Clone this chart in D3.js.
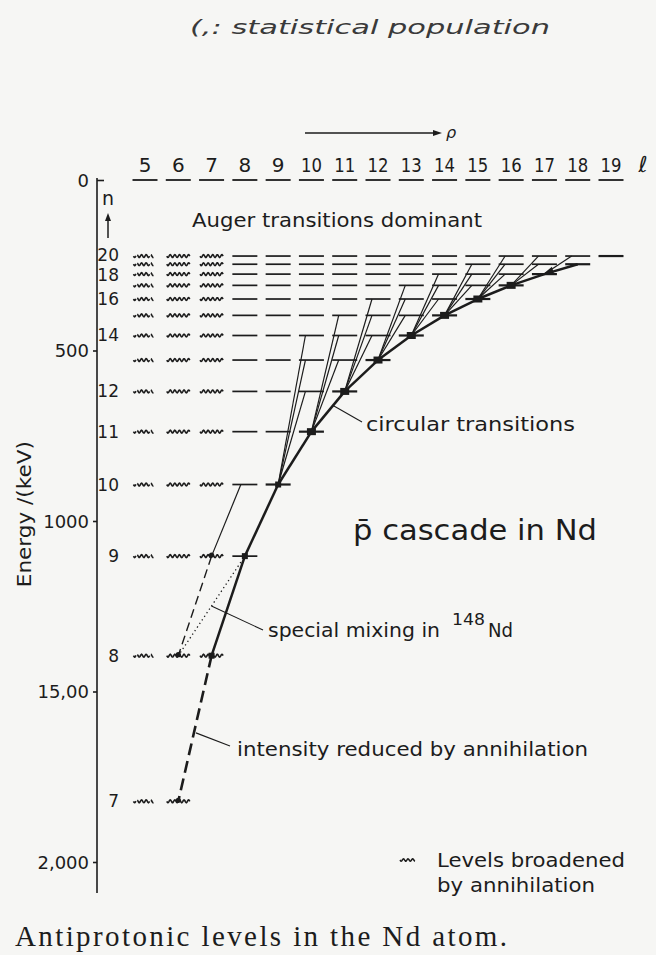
<!DOCTYPE html>
<html>
<head>
<meta charset="utf-8">
<script src="https://cdn.jsdelivr.net/npm/d3@7"></script>
<style>
  html, body { margin: 0; padding: 0; background: #f6f6f4; }
  svg { display: block; }
</style>
</head>
<body>
<svg id="fig" width="656" height="955"></svg>
<script>
// ---- data -------------------------------------------------------------
// principal quantum numbers and their binding energies (keV)
const principalN      = [7, 8, 9, 10, 11, 12, 13, 14, 15, 16, 17, 18, 19, 20];
const levelEnergyKeV  = [1822, 1395, 1103, 893, 738, 620, 528, 456, 397, 349, 309, 276, 247, 223];
const labelledN       = [20, 18, 16, 14, 12, 11, 10, 9, 8, 7];
// orbital angular momentum columns
const lValues         = [5, 6, 7, 8, 9, 10, 11, 12, 13, 14, 15, 16, 17, 18, 19];
const broadenedL      = [5, 6, 7];
// energy axis
const energyTicks      = [0, 500, 1000, 1500, 2000];
const energyTickLabels = ["0", "500", "1000", "15,00", "2,000"];
// circular cascade: upper n of each step (n, n-1) -> (n-1, n-2)
const circularChainN  = [19, 18, 17, 16, 15, 14, 13, 12, 11, 10, 9];
// circular levels carrying a population dot
const circularDotN    = [8, 9, 10, 11, 12, 13, 14, 15, 16, 17];
// side feeding into circular levels: [n_from, l_from, n_to, l_to]
const sideFeeds = [
  [12, 10, 10, 9], [13, 10, 10, 9], [14, 10, 10, 9],
  [13, 11, 11, 10], [14, 11, 11, 10], [15, 11, 11, 10],
  [14, 12, 12, 11], [15, 12, 12, 11], [16, 12, 12, 11],
  [15, 13, 13, 12], [16, 13, 13, 12], [17, 13, 13, 12],
  [16, 14, 14, 13], [17, 14, 14, 13], [18, 14, 14, 13],
  [17, 15, 15, 14], [18, 15, 15, 14], [19, 15, 15, 14],
  [18, 16, 16, 15], [19, 16, 16, 15], [20, 16, 16, 15],
  [19, 17, 17, 16], [20, 17, 17, 16],
  [20, 18, 18, 17]
];
const parallelFeeds    = [[10, 8, 9, 7]];
const annihilatedThin  = [[9, 7, 8, 6]];     // dashed thin
const annihilatedThick = [[8, 7, 7, 6]];     // dashed thick
const mixingSteps      = [[9, 8, 8, 6]];     // dotted
const smallDots        = [[9, 7], [8, 6], [7, 6]];

// ---- setup ------------------------------------------------------------
const W = 656, H = 955;
const ink = "#1c1c1c";
const font = "'DejaVu Sans', sans-serif";
const svg = d3.select("#fig");
svg.append("rect").attr("width", W).attr("height", H).attr("fill", "#f6f6f4");

const energyOf = new Map(principalN.map((n, i) => [n, levelEnergyKeV[i]]));
const xL = d3.scaleLinear().domain([5, 19]).range([145, 611]);
const yE = d3.scaleLinear().domain([0, 2000]).range([180, 862]);
const P = (n, l) => [xL(l), yE(energyOf.get(n))];
const halfW = 12.5;

function label(g, txt, x, y, size, len, opts = {}) {
  const t = g.append("text").attr("x", x).attr("y", y)
    .attr("font-family", opts.family || font)
    .attr("font-size", size).attr("fill", opts.fill || ink)
    .attr("text-anchor", opts.anchor || "start")
    .text(txt);
  if (opts.style) t.attr("font-style", opts.style);
  if (opts.weight) t.attr("font-weight", opts.weight);
  if (len) t.attr("textLength", len).attr("lengthAdjust", opts.adjust || "spacingAndGlyphs");
  return t;
}

function wavyPath(x0, x1, y, amp, wl) {
  const pts = d3.range(x0, x1 + 0.01, 0.5)
    .map(x => [x, y + amp * Math.sin((x - x0) / wl * 2 * Math.PI)]);
  return d3.line()(pts);
}

// ---- title & momentum arrow ------------------------------------------
label(svg, "(,: statistical population", 190, 34, 20, 360,
      { family: "'DejaVu Sans', sans-serif", style: "italic", weight: 300, fill: "#3a3a3a" });

const arrowY = 133;
svg.append("line").attr("x1", 305).attr("x2", 433).attr("y1", arrowY).attr("y2", arrowY)
  .attr("stroke", ink).attr("stroke-width", 1.3);
svg.append("path").attr("d", `M433,${arrowY - 3}L442,${arrowY}L433,${arrowY + 3}Z`).attr("fill", ink);
label(svg, "ρ", 446, arrowY + 5, 16, null, { style: "italic" });

// ---- energy axis -------------------------------------------------------
const axisG = svg.append("g").attr("transform", "translate(97,0)");
axisG.call(d3.axisLeft(yE).tickValues(energyTicks)
  .tickFormat((d, i) => energyTickLabels[i]).tickSize(4).tickPadding(4));
axisG.select(".domain").remove();
axisG.selectAll(".tick line").attr("stroke", ink).attr("stroke-width", 1.6);
axisG.selectAll(".tick").filter(d => d === 0).select("line").attr("x2", 7);
axisG.selectAll(".tick text").attr("font-family", font).attr("font-size", 18)
  .attr("fill", ink).attr("dy", "0.36em");
svg.append("line").attr("x1", 97).attr("x2", 97)
  .attr("y1", yE(0) - 2).attr("y2", yE(2000) + 31)
  .attr("stroke", ink).attr("stroke-width", 1.6);

svg.append("text").attr("transform", `translate(31,${yE(980)}) rotate(-90)`)
  .attr("text-anchor", "middle").attr("font-family", font).attr("font-size", 19)
  .attr("fill", ink).attr("textLength", 146).attr("lengthAdjust", "spacingAndGlyphs")
  .text("Energy /(keV)");

// n with upward arrow
label(svg, "n", 108, 205, 19, null, { anchor: "middle" });
svg.append("line").attr("x1", 108).attr("x2", 108).attr("y1", 238).attr("y2", 219)
  .attr("stroke", ink).attr("stroke-width", 1.5);
svg.append("path").attr("d", "M105,221L108,213L111,221Z").attr("fill", ink);

// ---- l labels and ionisation limit -----------------------------------
const topG = svg.append("g");
lValues.forEach(l => {
  label(topG, String(l), xL(l), 172, 20, l >= 10 ? 21 : null, { anchor: "middle" });
  topG.append("line").attr("x1", xL(l) - halfW).attr("x2", xL(l) + halfW)
    .attr("y1", yE(0)).attr("y2", yE(0)).attr("stroke", ink).attr("stroke-width", 1.8);
});
label(topG, "ℓ", 643, 172, 22, null, { anchor: "middle", style: "italic" });

// ---- energy levels ------------------------------------------------------
const levG = svg.append("g");
principalN.forEach(n => {
  const y = yE(energyOf.get(n));
  lValues.filter(l => l <= n - 1).forEach(l => {
    const x = xL(l);
    if (broadenedL.includes(l)) {
      const p = levG.append("path")
        .attr("d", wavyPath(x - halfW + 1, x + halfW - 1, y, 1.4, 4.6))
        .attr("fill", "none").attr("stroke", ink).attr("stroke-width", 1.6);
      if (l === 5) p.attr("stroke-dasharray", "4 2 20 2 4 100");
    } else {
      levG.append("line").attr("x1", x - halfW).attr("x2", x + halfW)
        .attr("y1", y).attr("y2", y).attr("stroke", ink)
        .attr("stroke-width", l === n - 1 && n >= 10 ? 2.2 : 1.7);
    }
  });
});

// level numbers (20 nudged up, 18 down, since n=19 sits between them)
const labelNudge = new Map([[20, -1.5], [18, 1]]);
labelledN.forEach(n => {
  label(levG, String(n), 119, yE(energyOf.get(n)) + 6 + (labelNudge.get(n) || 0), 17,
        null, { anchor: "end" });
});

// ---- transitions --------------------------------------------------------
const trG = svg.append("g").attr("fill", "none").attr("stroke", ink);

sideFeeds.forEach(([nf, lf, nt, lt]) => {
  const [x1, y1] = P(nf, lf), [x2, y2] = P(nt, lt);
  trG.append("line").attr("x1", x1 - 6).attr("y1", y1).attr("x2", x2).attr("y2", y2)
    .attr("stroke-width", 1.2);
});
parallelFeeds.forEach(([nf, lf, nt, lt]) => {
  const [x1, y1] = P(nf, lf), [x2, y2] = P(nt, lt);
  trG.append("line").attr("x1", x1 - 4).attr("y1", y1).attr("x2", x2).attr("y2", y2)
    .attr("stroke-width", 1.2);
});
annihilatedThin.forEach(([nf, lf, nt, lt]) => {
  const [x1, y1] = P(nf, lf), [x2, y2] = P(nt, lt);
  trG.append("line").attr("x1", x1).attr("y1", y1).attr("x2", x2).attr("y2", y2)
    .attr("stroke-width", 1.4).attr("stroke-dasharray", "9 5");
});
mixingSteps.forEach(([nf, lf, nt, lt]) => {
  const [x1, y1] = P(nf, lf), [x2, y2] = P(nt, lt);
  trG.append("line").attr("x1", x1 - 4).attr("y1", y1 + 6).attr("x2", x2).attr("y2", y2)
    .attr("stroke-width", 1.3).attr("stroke-dasharray", "1.3 3");
});
// circular cascade (thick)
circularChainN.forEach(n => {
  const [x1, y1] = P(n, n - 1), [x2, y2] = P(n - 1, n - 2);
  trG.append("line").attr("x1", x1).attr("y1", y1).attr("x2", x2).attr("y2", y2)
    .attr("stroke-width", 2.5);
});
annihilatedThick.forEach(([nf, lf, nt, lt]) => {
  const [x1, y1] = P(nf, lf), [x2, y2] = P(nt, lt);
  trG.append("line").attr("x1", x1).attr("y1", y1).attr("x2", x2).attr("y2", y2)
    .attr("stroke-width", 2.6).attr("stroke-dasharray", "12 6");
});

// ---- population dots -----------------------------------------------------
const dotG = svg.append("g").attr("fill", ink);
circularDotN.forEach(n => {
  const [x, y] = P(n, n - 1);
  const w = n >= 11 ? 9 : 6, h = n >= 11 ? 7 : 6;
  dotG.append("rect").attr("x", x - w / 2).attr("y", y - h / 2)
    .attr("width", w).attr("height", h);
});
smallDots.forEach(([n, l]) => {
  const [x, y] = P(n, l);
  dotG.append("circle").attr("cx", x).attr("cy", y - 1).attr("r", 2.6);
});
// arrowhead at the head of the circular cascade
{
  const [x1, y1] = P(19, 18), [x2, y2] = P(18, 17);
  const a = Math.atan2(y2 - y1, x2 - x1) * 180 / Math.PI;
  dotG.append("path").attr("d", "M0,0L-9,-4L-9,4Z")
    .attr("transform", `translate(${x2},${y2 - 1}) rotate(${a})`);
}

// ---- annotations -----------------------------------------------------------
const annG = svg.append("g");
label(annG, "Auger transitions dominant", 192, 227, 20, 290);

{ // circular transitions leader from the cascade between n=12 and n=11
  const [xa, ya] = P(12, 11), [xb, yb] = P(11, 10);
  const t = 0.35;
  annG.append("line").attr("x1", xa + (xb - xa) * t).attr("y1", ya + (yb - ya) * t)
    .attr("x2", 362).attr("y2", 422).attr("stroke", ink).attr("stroke-width", 1.1);
  label(annG, "circular transitions", 366, 431, 20, 209);
}

label(annG, "p\u0304 cascade in Nd", 353, 540, 28, 244);

{ // special mixing leader from the dotted step
  const [xa, ya] = P(9, 8), [xb, yb] = P(8, 6);
  const t = 0.47;
  annG.append("line").attr("x1", xa - 4 + (xb - xa + 4) * t).attr("y1", ya + 6 + (yb - ya - 6) * t)
    .attr("x2", 263).attr("y2", 630).attr("stroke", ink).attr("stroke-width", 1.1);
  label(annG, "special mixing in", 268, 637, 20, 172);
  label(annG, "148", 452, 625, 15, 33);
  label(annG, "Nd", 488, 637, 20, 25);
}

{ // intensity leader from the dashed n=8 -> n=7 step
  const [xa, ya] = P(8, 7), [xb, yb] = P(7, 6);
  const t = 0.53;
  annG.append("line").attr("x1", xa + (xb - xa) * t + 2).attr("y1", ya + (yb - ya) * t)
    .attr("x2", 230).attr("y2", 746).attr("stroke", ink).attr("stroke-width", 1.1);
  label(annG, "intensity reduced by annihilation", 237, 756, 20, 351);
}

// legend
annG.append("path").attr("d", wavyPath(400, 415, 860, 1.2, 4.6))
  .attr("fill", "none").attr("stroke", ink).attr("stroke-width", 1.5);
label(annG, "Levels broadened", 437, 867, 20, 188);
label(annG, "by annihilation", 437, 892, 20, 158);

// caption
label(svg, "Antiprotonic levels in the Nd atom.", 15, 946, 29, 492,
      { family: "'Liberation Serif', 'DejaVu Serif', serif", adjust: "spacing" });
</script>
</body>
</html>
